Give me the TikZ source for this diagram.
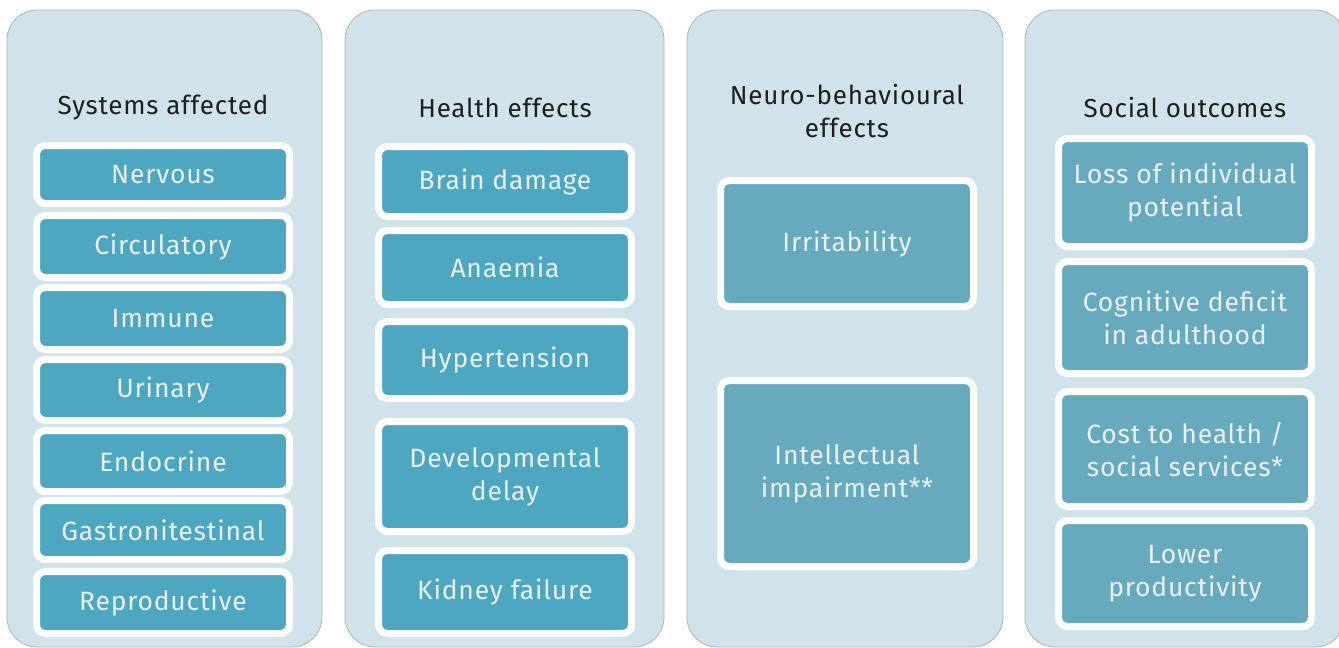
\documentclass[tikz,border=0pt]{standalone}
\usepackage{fontspec}
\setmainfont{Fira Sans}[LetterSpace=3]
\usetikzlibrary{shadows}
\definecolor{panelbg}{HTML}{D0E3EA}
\definecolor{panelline}{HTML}{A9B4B8}
\definecolor{tealA}{HTML}{4EA7C1}
\definecolor{tealB}{HTML}{67AABD}
\definecolor{boxtext}{HTML}{E9F1F2}
\definecolor{headtext}{HTML}{1E1E1E}
\tikzset{
  panel/.style={draw=panelline, line width=0.8pt, fill=panelbg, rounded corners=30pt},
  itembox/.style={draw=white, line width=7pt, rounded corners=9pt, inner sep=0pt,
    minimum width=253pt, align=center, text=boxtext,
    font=\fontsize{26.5}{33}\selectfont,
    drop shadow={shadow xshift=1pt, shadow yshift=-3pt, opacity=0.35, fill=black!60}},
  boxA/.style={itembox, fill=tealA},
  boxB/.style={itembox, fill=tealB},
  head/.style={text=headtext, align=center, font=\fontsize{26}{33}\selectfont, inner sep=0pt}
}
\begin{document}
\begin{tikzpicture}[x=1pt,y=-1pt]
\useasboundingbox (0,0) rectangle (1339,648);
% panels
\draw[panel] (7,10) rectangle (322,647);
\draw[panel] (345,10) rectangle (664,647);
\draw[panel] (687,10) rectangle (1003,647);
\draw[panel] (1025,10) rectangle (1345,647);
% headings
\node[head] (h1) at (163,108) {Systems affected};
\node[head] (h2) at (505,108) {Health effects};
\node[head] (h3) at (847,111) {Neuro-behavioural\\effects};
\node[head] (h4) at (1185,108) {Social outcomes};
% column 1
\node[boxA, minimum height=58pt] (n1) at (163,174.5) {Nervous};
\node[boxA, minimum height=62pt] (n2) at (163,246.5) {Circulatory};
\node[boxA, minimum height=62pt] (n3) at (163,318.5) {Immune};
\node[boxA, minimum height=61pt] (n4) at (163,390) {Urinary};
\node[boxA, minimum height=61pt] (n5) at (163,461) {Endocrine};
\node[boxA, minimum height=59pt] (n6) at (163,530) {Gastronitestinal};
\node[boxA, minimum height=62pt] (n7) at (163,602.5) {Reproductive};
% column 2
\node[boxA, minimum height=70pt] (m1) at (505,181.5) {Brain damage};
\node[boxA, minimum height=74pt] (m2) at (505,267.5) {Anaemia};
\node[boxA, minimum height=77pt] (m3) at (505,360) {Hypertension};
\node[boxA, minimum height=110pt] (m4) at (505,476.5) {Developmental\\delay};
\node[boxA, minimum height=83pt] (m5) at (505,592) {Kidney failure};
% column 3
\node[boxB, minimum height=126pt] (k1) at (847,243.5) {Irritability};
\node[boxB, minimum height=186pt] (k2) at (847,473.5) {Intellectual\\impairment**};
% column 4
\node[boxB, minimum height=108pt] (s1) at (1185,192.5) {Loss of individual\\potential};
\node[boxB, minimum height=112pt] (s2) at (1185,317.5) {Cognitive deficit\\in adulthood};
\node[boxB, minimum height=115pt] (s3) at (1185,449) {Cost to health /\\social services*};
\node[boxB, minimum height=106pt] (s4) at (1185,573.5) {Lower\\productivity};
\end{tikzpicture}
\end{document}
